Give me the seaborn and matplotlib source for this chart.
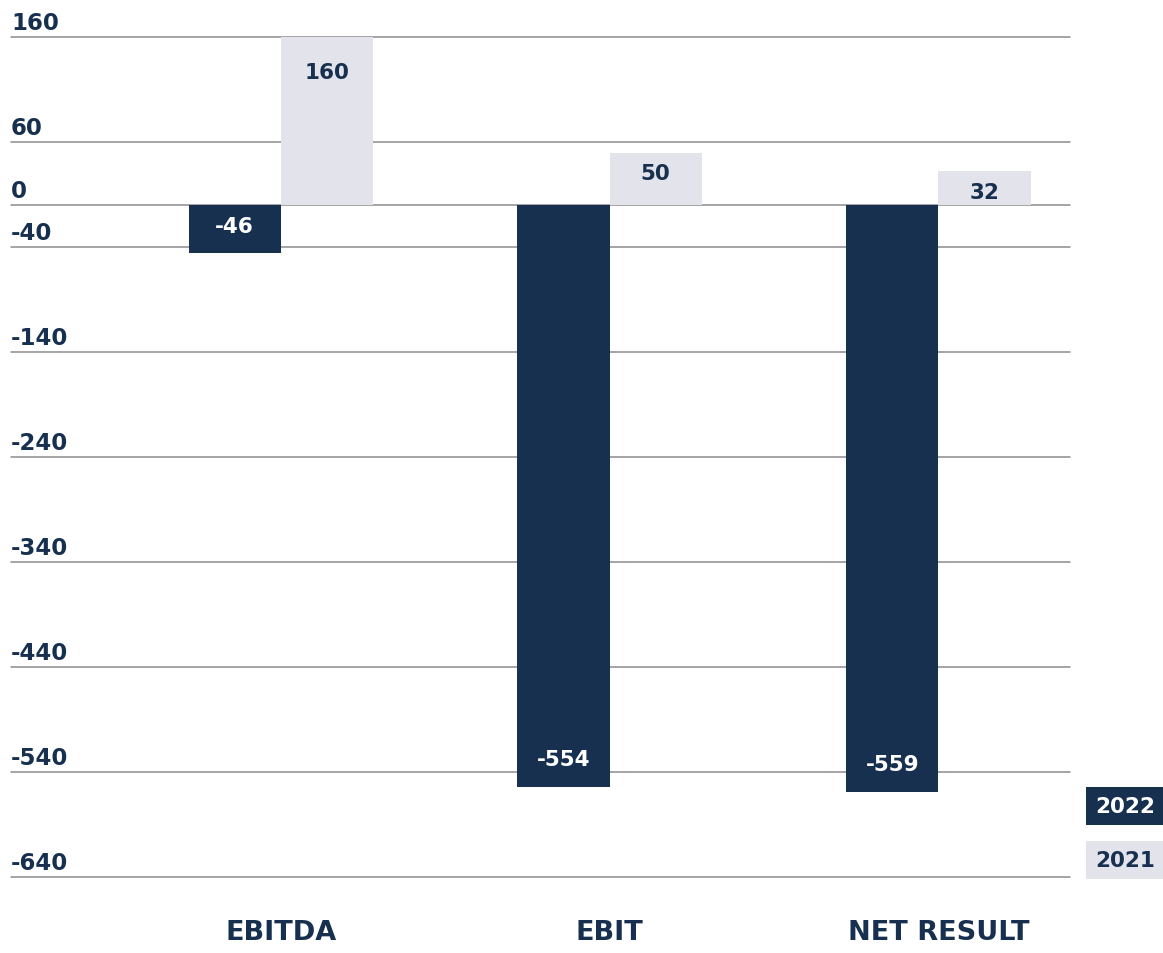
import matplotlib
matplotlib.use("Agg")
import matplotlib.pyplot as plt
import matplotlib.transforms as mtransforms
import seaborn as sns
import pandas as pd

categories = ["EBITDA", "EBIT", "NET RESULT"]
values_2022 = [-46, -554, -559]
values_2021 = [160, 50, 32]
years = ["2022", "2021"]
tick_values = [160, 60, 0, -40, -140, -240, -340, -440, -540, -640]

NAVY = "#17304f"
LIGHT = "#e3e3ec"
GRID = "#8c8c8c"

df = pd.DataFrame({
    "category": categories * 2,
    "year": [years[0]] * 3 + [years[1]] * 3,
    "value": values_2022 + values_2021,
})

sns.set_theme(style="white")
plt.rcParams["font.family"] = ["DejaVu Sans"]

fig = plt.figure(figsize=(11.63, 9.54), dpi=100)
ax = fig.add_axes([11 / 1163, 1 - 878 / 954, (1070 - 11) / 1163, (878 - 38) / 954])

sns.barplot(data=df, x="category", y="value", hue="year", hue_order=years,
            order=categories, palette={years[0]: NAVY, years[1]: LIGHT},
            width=0.56, saturation=1, legend=False, ax=ax, zorder=3,
            linewidth=0, edgecolor="none")

ax.set_ylim(-640, 160)
ax.set_xlim(-0.82, 2.40)
for s in ax.spines.values():
    s.set_visible(False)
ax.set_yticks([])
ax.set_xlabel("")
ax.set_ylabel("")

# grid lines + labels above them
trans = mtransforms.blended_transform_factory(ax.transAxes, ax.transData)
for v in tick_values:
    ax.axhline(v, color=GRID, lw=1.1, zorder=1, clip_on=False)
    ax.annotate(f"{v}", xy=(0, v), xycoords=trans, xytext=(0, 2),
                textcoords="offset points", ha="left", va="bottom",
                fontsize=16.5, fontweight="heavy", color=NAVY)

# category labels
ax.set_xticks(range(len(categories)))
ax.set_xticklabels(categories, fontsize=19.5, fontweight="heavy", color=NAVY)
ax.tick_params(axis="x", length=0, pad=30)

# value labels inside bars
for p in ax.patches:
    h = p.get_height()
    y0 = p.get_y()
    if p.get_width() == 0:
        continue
    top = max(y0, y0 + h)
    bot = min(y0, y0 + h)
    color = p.get_facecolor()
    is_dark = color[0] < 0.5
    txtcol = "white" if is_dark else NAVY
    cx = p.get_x() + p.get_width() / 2
    if h >= 0:
        ax.annotate(f"{round(h)}", xy=(cx, top), xytext=(0, -15 if h < 100 else -25),
                    textcoords="offset points", ha="center", va="center",
                    fontsize=15.5, fontweight="heavy", color=txtcol, zorder=5)
    else:
        ax.annotate(f"{round(h)}", xy=(cx, bot), xytext=(0, 20),
                    textcoords="offset points", ha="center", va="center",
                    fontsize=15.5, fontweight="heavy", color=txtcol, zorder=5)

# legend boxes
fig.text(1095 / 1163, 1 - 807 / 954, years[0], ha="left", va="center",
         fontsize=15.5, fontweight="heavy", color="white",
         bbox=dict(boxstyle="square,pad=0.42", fc=NAVY, ec="none"))
fig.text(1095 / 1163, 1 - 861 / 954, years[1], ha="left", va="center",
         fontsize=15.5, fontweight="heavy", color=NAVY,
         bbox=dict(boxstyle="square,pad=0.42", fc=LIGHT, ec="none"))

fig.savefig("out.png", dpi=100, facecolor="white")
